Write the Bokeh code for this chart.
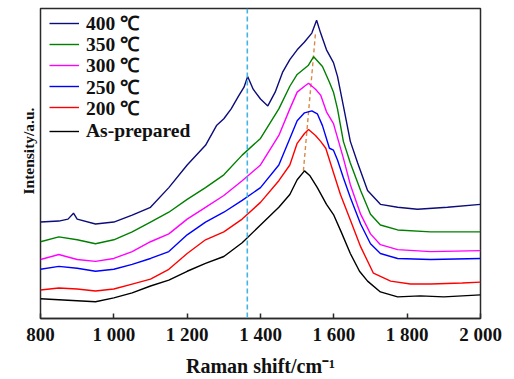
from bokeh.plotting import figure
from bokeh.models import Legend, LegendItem, Range1d, FixedTicker, Span, Title
from bokeh.embed import file_html
from bokeh.resources import INLINE

# Raman shift (cm^-1) and intensity (a.u.)
x_asprep = [800, 850, 900, 950, 1000, 1050, 1100, 1150, 1200, 1250, 1300, 1350, 1400, 1450, 1480, 1500,
            1520, 1535, 1555, 1580, 1600, 1620, 1645, 1670, 1692, 1727, 1774, 1836, 1900, 1950, 2000]
y_asprep = [20, 19, 18, 17, 21, 26, 33, 39, 48, 56, 63, 77, 95, 113, 126, 141,
            150, 145, 133, 116, 105, 88, 66, 48, 38, 27, 22, 23, 22, 23, 24]

x_200 = [800, 850, 900, 950, 1000, 1050, 1100, 1150, 1200, 1250, 1300, 1350, 1400, 1450, 1480, 1500,
         1520, 1531, 1550, 1564, 1578, 1595, 1618, 1645, 1673, 1708, 1755, 1809, 1864, 1950, 2000]
y_200 = [29, 31, 30, 28, 30, 35, 40, 50, 66, 80, 88, 101, 118, 140, 156, 178,
         188, 192, 186, 180, 173, 153, 126, 100, 73, 46, 38, 35, 35, 36, 37]

x_250 = [800, 850, 900, 950, 1000, 1050, 1100, 1150, 1200, 1250, 1300, 1350, 1400, 1450, 1480, 1500,
         1520, 1540, 1555, 1569, 1588, 1599, 1610, 1626, 1645, 1673, 1700, 1727, 1774, 1864, 2000]
y_250 = [50, 53, 51, 48, 50, 55, 61, 68, 85, 98, 108, 120, 133, 156, 183, 201,
         209, 211, 208, 196, 173, 171, 161, 143, 123, 96, 76, 66, 61, 60, 61]

x_300 = [800, 850, 900, 950, 1000, 1050, 1100, 1150, 1200, 1250, 1300, 1350, 1400, 1450, 1480, 1500,
         1520, 1531, 1550, 1564, 1580, 1599, 1626, 1645, 1673, 1700, 1727, 1774, 1864, 2000]
y_300 = [60, 65, 60, 58, 61, 68, 78, 86, 101, 113, 125, 140, 156, 186, 213, 230,
         236, 239, 233, 227, 210, 198, 163, 136, 106, 86, 75, 70, 68, 69]

x_350 = [800, 850, 900, 950, 1000, 1050, 1100, 1150, 1200, 1250, 1300, 1350, 1400, 1450, 1480, 1500,
         1530, 1545, 1569, 1588, 1599, 1610, 1626, 1645, 1673, 1700, 1727, 1774, 1864, 2000]
y_350 = [78, 83, 80, 76, 80, 88, 98, 108, 121, 133, 146, 166, 183, 213, 236, 248,
         257, 266, 256, 240, 230, 213, 180, 158, 130, 106, 95, 90, 88, 88]

x_400 = [800, 850, 875, 890, 900, 950, 1000, 1050, 1100, 1150, 1200, 1250, 1280, 1300, 1320, 1340,
         1355, 1365, 1380, 1400, 1420, 1440, 1460, 1480, 1500, 1520, 1540, 1553, 1564, 1580,
         1599, 1610, 1626, 1645, 1665, 1692, 1727, 1774, 1828, 1910, 2000]
y_400 = [98, 99, 101, 107, 101, 96, 98, 105, 113, 133, 156, 176, 196, 203, 213, 226,
         235, 246, 233, 223, 216, 230, 250, 263, 273, 281, 290, 303, 290, 273,
         260, 246, 216, 180, 158, 130, 116, 113, 111, 113, 116]

# reference lines
d_band = 1364
g_shift_x = [1517, 1550]
g_shift_y = [150, 290]

x_ticks = [800, 1000, 1200, 1400, 1600, 1800, 2000]
x_tick_labels = ["800", "1 000", "1 200", "1 400", "1 600", "1 800", "2 000"]

series = [
    ("400 ℃", x_400, y_400, "#0c0c7a"),
    ("350 ℃", x_350, y_350, "#008000"),
    ("300 ℃", x_300, y_300, "#ff00ff"),
    ("250 ℃", x_250, y_250, "#0000ff"),
    ("200 ℃", x_200, y_200, "#ff0000"),
    ("As-prepared", x_asprep, y_asprep, "#000000"),
]

FONT = "Liberation Serif"

p = figure(width=514, height=379, output_backend="svg", toolbar_location=None,
           x_range=Range1d(800, 2000), y_range=Range1d(0, 315),
           min_border_left=40, min_border_right=34, min_border_top=8, min_border_bottom=0)

p.xgrid.visible = False
p.ygrid.visible = False
p.outline_line_color = "#2a2a2a"
p.outline_line_width = 1.5

p.add_layout(Span(location=d_band, dimension="height", line_color="#44b4e4",
                  line_dash="5 3", line_width=1.6))
p.line(g_shift_x, g_shift_y, line_color="#d88a48", line_dash="4 3", line_width=1.4)

# one legend box per entry so the row pitch matches the reference
for i, (label, xs, ys, col) in enumerate(series):
    r = p.line(xs, ys, line_color=col, line_width=1.4)
    lg = Legend(items=[LegendItem(label=label, renderers=[r])],
                location=(9, 282 - 21.2 * i), border_line_color=None,
                background_fill_alpha=0, padding=0, margin=0, spacing=0,
                glyph_width=30, glyph_height=20, label_height=20, label_standoff=7,
                label_text_font=FONT, label_text_font_style="bold",
                label_text_font_size="19.5px", label_text_color="#111111")
    p.add_layout(lg)

xa = p.xaxis[0]
xa.ticker = FixedTicker(ticks=x_ticks)
xa.major_label_overrides = {t: l for t, l in zip(x_ticks, x_tick_labels)}
xa.major_tick_in = 5
xa.major_tick_out = 0
xa.minor_tick_line_color = None
xa.axis_line_color = "#2a2a2a"
xa.axis_line_width = 1.5
xa.major_tick_line_width = 1.5
xa.major_tick_line_color = "#2a2a2a"
xa.major_label_text_font = FONT
xa.major_label_text_font_style = "bold"
xa.major_label_text_font_size = "19px"
xa.major_label_text_color = "#111111"
xa.major_label_standoff = 5
xa.axis_label = "Raman shift/cm⁻¹"
xa.axis_label_text_font = FONT
xa.axis_label_text_font_style = "bold"
xa.axis_label_text_font_size = "20px"
xa.axis_label_text_color = "#111111"
xa.axis_label_text_line_height = 1.0
xa.axis_label_standoff = 7

p.yaxis.visible = False
p.add_layout(Title(text="Intensity/a.u.", align="left", offset=124, standoff=8,
                   text_font=FONT, text_font_style="bold", text_font_size="15.5px",
                   text_color="#111111"), "left")

open("out.html", "w").write(file_html(p, INLINE))
